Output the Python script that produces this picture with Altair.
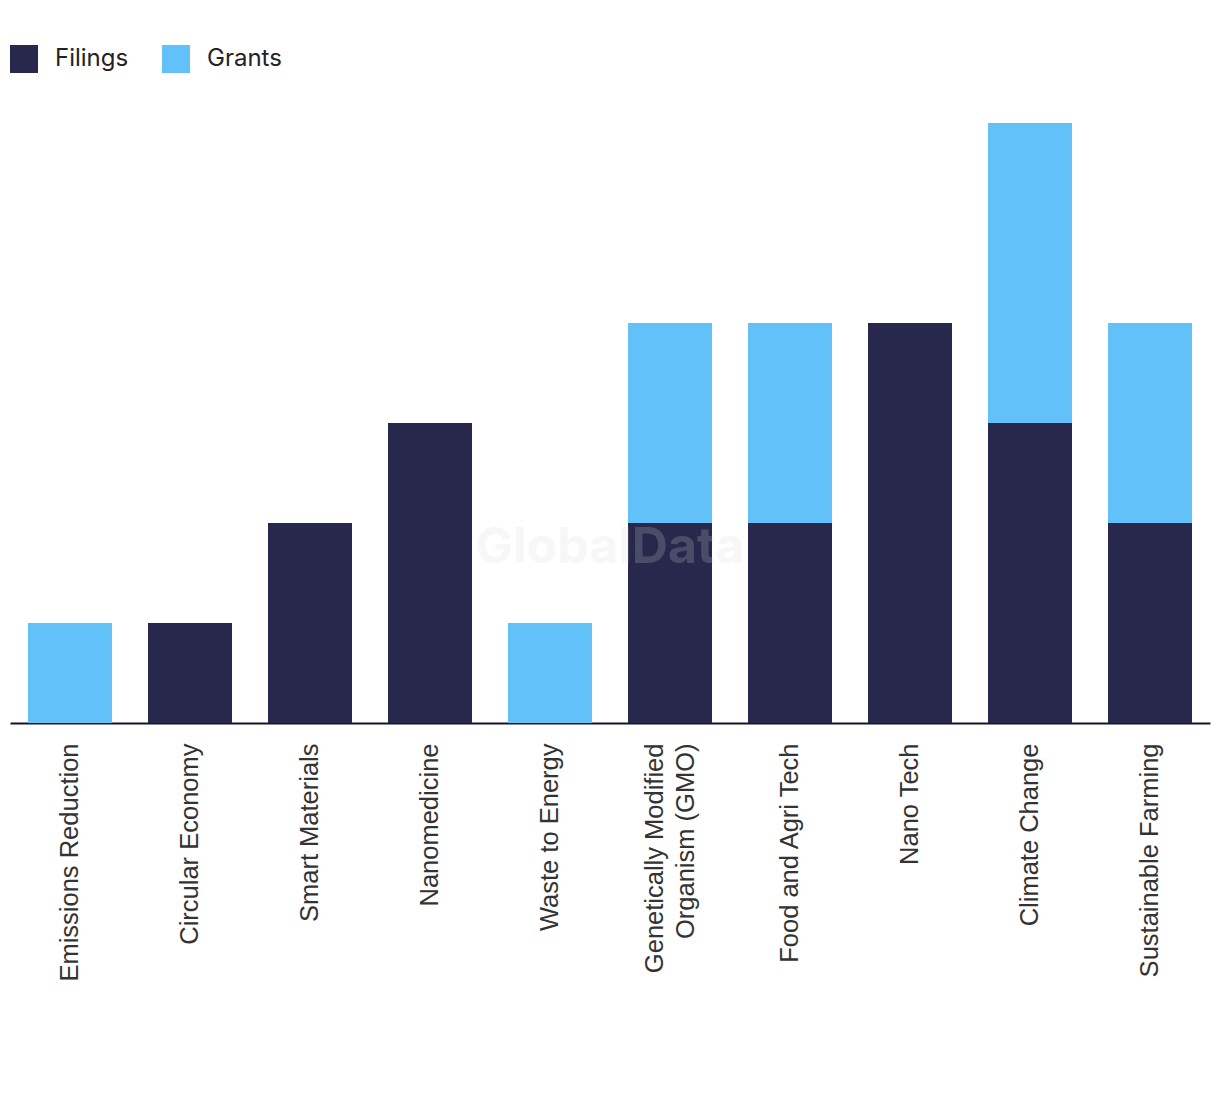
import altair as alt
import pandas as pd

categories = ["Emissions Reduction", "Circular Economy", "Smart Materials", "Nanomedicine",
              "Waste to Energy", "Genetically Modified Organism (GMO)", "Food and Agri Tech",
              "Nano Tech", "Climate Change", "Sustainable Farming"]
filings = [0, 1, 2, 3, 0, 2, 2, 4, 3, 2]
grants = [1, 0, 0, 0, 1, 2, 2, 0, 3, 2]
series = ["Filings", "Grants"]
colors = ["#27284b", "#62c1f9"]

rows = []
for c, f, g in zip(categories, filings, grants):
    rows.append({"category": c, "series": "Filings", "value": f, "ord": 0})
    rows.append({"category": c, "series": "Grants", "value": g, "ord": 1})
df = pd.DataFrame(rows)

gmo = "Genetically Modified Organism (GMO)"
label_expr = ("datum.label == '" + gmo + "' ? "
              "['Genetically Modified', 'Organism (GMO)'] : datum.label")

bars = alt.Chart(df).mark_bar().encode(
    x=alt.X("category:N", sort=categories,
            scale=alt.Scale(paddingInner=0.3, paddingOuter=0.15),
            axis=alt.Axis(title=None, labelAngle=-90, labelAlign="right", labelBaseline="middle",
                          labelFont="Liberation Sans", labelFontSize=25.5, labelColor="#333333",
                          labelPadding=20, labelLineHeight=31, labelExpr=label_expr,
                          labelLimit=500,
                          labelOffset=alt.condition("datum.value == '" + gmo + "'",
                                                    alt.value(-15), alt.value(0)),
                          ticks=False, domainColor="#15152a", domainWidth=2, grid=False)),
    y=alt.Y("value:Q", stack="zero", scale=alt.Scale(domain=[0, 6], nice=False),
            axis=None),
    color=alt.Color("series:N", sort=series,
                    scale=alt.Scale(domain=series, range=colors),
                    legend=alt.Legend(title=None, orient="none", legendX=0, legendY=-78,
                                      direction="horizontal", symbolType="square",
                                      symbolSize=784, symbolStrokeWidth=0, symbolOpacity=1,
                                      labelFont="Inter", labelFontSize=24, labelColor="#222222",
                                      labelOffset=17, columnPadding=33)),
    order=alt.Order("ord:Q"),
)

watermark = alt.Chart(pd.DataFrame({"t": ["GlobalData"]})).mark_text(
    font="Inter", fontSize=50, fontWeight="bold", color="#dadada", opacity=0.2
).encode(x=alt.value(600), y=alt.value(425), text="t:N")

chart = alt.layer(bars, watermark).properties(
    width=1200, height=600, background="white",
    padding={"left": 2, "top": 37, "right": 2, "bottom": 10}
).configure_view(strokeWidth=0, stroke="transparent")

chart.save("out.html", embed_options={"renderer": "svg", "actions": False})
